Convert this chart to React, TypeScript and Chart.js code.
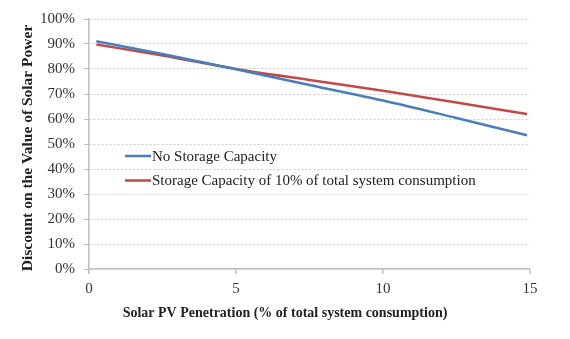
import React, { useEffect, useRef } from "react";
import { Chart, registerables } from "chart.js";

Chart.register(...registerables);

// Solar PV penetration (% of total system consumption)
const penetration = [0.25, 2.5, 5, 7.5, 10, 12.5, 14.9];
// Discount on the value of solar power (%)
const noStorage = [91.1, 86.0, 79.9, 73.6, 67.4, 60.4, 53.5];
const withStorage = [89.8, 85.4, 80.0, 75.6, 71.3, 66.6, 62.0];

const seriesNames = [
  "No Storage Capacity",
  "Storage Capacity of 10% of total system consumption",
];
const seriesColors = ["#4a7ebb", "#be4b48"];

const yTicks = [0, 10, 20, 30, 40, 50, 60, 70, 80, 90, 100];
const xTicks = [0, 5, 10, 15];

const xTitle = "Solar PV Penetration (% of total system consumption)";
const yTitle = "Discount on the Value of Solar Power";

const FONT = "'Liberation Serif', 'Times New Roman', serif";

// Legend drawn inside the plot area, below the curves
const innerLegend = {
  id: "innerLegend",
  afterDatasetsDraw(chart: any) {
    const { ctx, chartArea } = chart;
    const x0 = chartArea.left + 36;
    const y0 = chartArea.top + 137;
    ctx.save();
    ctx.font = `15px ${FONT}`;
    ctx.textBaseline = "middle";
    chart.data.datasets.forEach((ds: any, i: number) => {
      const y = y0 + i * 24.5;
      ctx.strokeStyle = ds.borderColor;
      ctx.lineWidth = 2.5;
      ctx.beginPath();
      ctx.moveTo(x0, y);
      ctx.lineTo(x0 + 26, y);
      ctx.stroke();
      ctx.fillStyle = "#222";
      ctx.fillText(ds.label, x0 + 27, y + 1);
    });
    ctx.restore();
  },
};

// Axis titles: x centred on the canvas, y rotated beside the tick labels
const axisTitles = {
  id: "axisTitles",
  afterDraw(chart: any) {
    const { ctx, chartArea } = chart;
    ctx.save();
    ctx.fillStyle = "#222";
    ctx.textAlign = "center";
    ctx.textBaseline = "middle";
    ctx.font = `bold 14px ${FONT}`;
    ctx.fillText(xTitle, chart.width / 2, 313);
    ctx.font = `bold 15.5px ${FONT}`;
    ctx.translate(28, (chartArea.top + chartArea.bottom) / 2 + 4);
    ctx.rotate(-Math.PI / 2);
    ctx.fillText(yTitle, 0, 0);
    ctx.restore();
  },
};

export default function App() {
  const canvasRef = useRef<HTMLCanvasElement>(null);

  useEffect(() => {
    document.body.style.margin = "0";
    const canvas = canvasRef.current;
    if (!canvas) return;
    const chart = new Chart(canvas, {
      type: "line",
      data: {
        datasets: [noStorage, withStorage].map((vals, i) => ({
          label: seriesNames[i],
          data: penetration.map((x, j) => ({ x, y: vals[j] })),
          borderColor: seriesColors[i],
          backgroundColor: seriesColors[i],
          borderWidth: 2.5,
          pointRadius: 0,
          cubicInterpolationMode: "monotone" as const,
          fill: false,
        })),
      },
      options: {
        responsive: false,
        animation: false,
        layout: { padding: { top: 19, right: 40, left: 0, bottom: 0 } },
        plugins: {
          legend: { display: false },
          tooltip: { enabled: false },
        },
        scales: {
          x: {
            type: "linear",
            min: 0,
            max: 15,
            afterBuildTicks: (scale: any) => {
              scale.ticks = xTicks.map((v) => ({ value: v }));
            },
            afterFit: (scale: any) => {
              scale.height = 70;
            },
            border: { color: "#bfbfbf", width: 1.5 },
            grid: {
              drawOnChartArea: false,
              color: "#bfbfbf",
              tickLength: 5,
              lineWidth: 1.5,
            },
            ticks: {
              font: { family: FONT, size: 15 },
              color: "#333",
              padding: 6,
            },
          },
          y: {
            min: 0,
            max: 100,
            afterBuildTicks: (scale: any) => {
              scale.ticks = yTicks.map((v) => ({ value: v }));
            },
            afterFit: (scale: any) => {
              scale.width = 89;
            },
            border: { color: "#bfbfbf", width: 1.5, dash: [2, 2] },
            grid: {
              color: "#cccccc",
              lineWidth: 1,
              tickLength: 5,
              tickColor: "#bfbfbf",
              tickBorderDash: [],
            },
            ticks: {
              font: { family: FONT, size: 15 },
              color: "#333",
              padding: 9,
              callback: (v: any) => `${v}%`,
            },
          },
        },
      },
      plugins: [innerLegend, axisTitles],
    });
    return () => chart.destroy();
  }, []);

  return <canvas ref={canvasRef} width={570} height={339} />;
}
